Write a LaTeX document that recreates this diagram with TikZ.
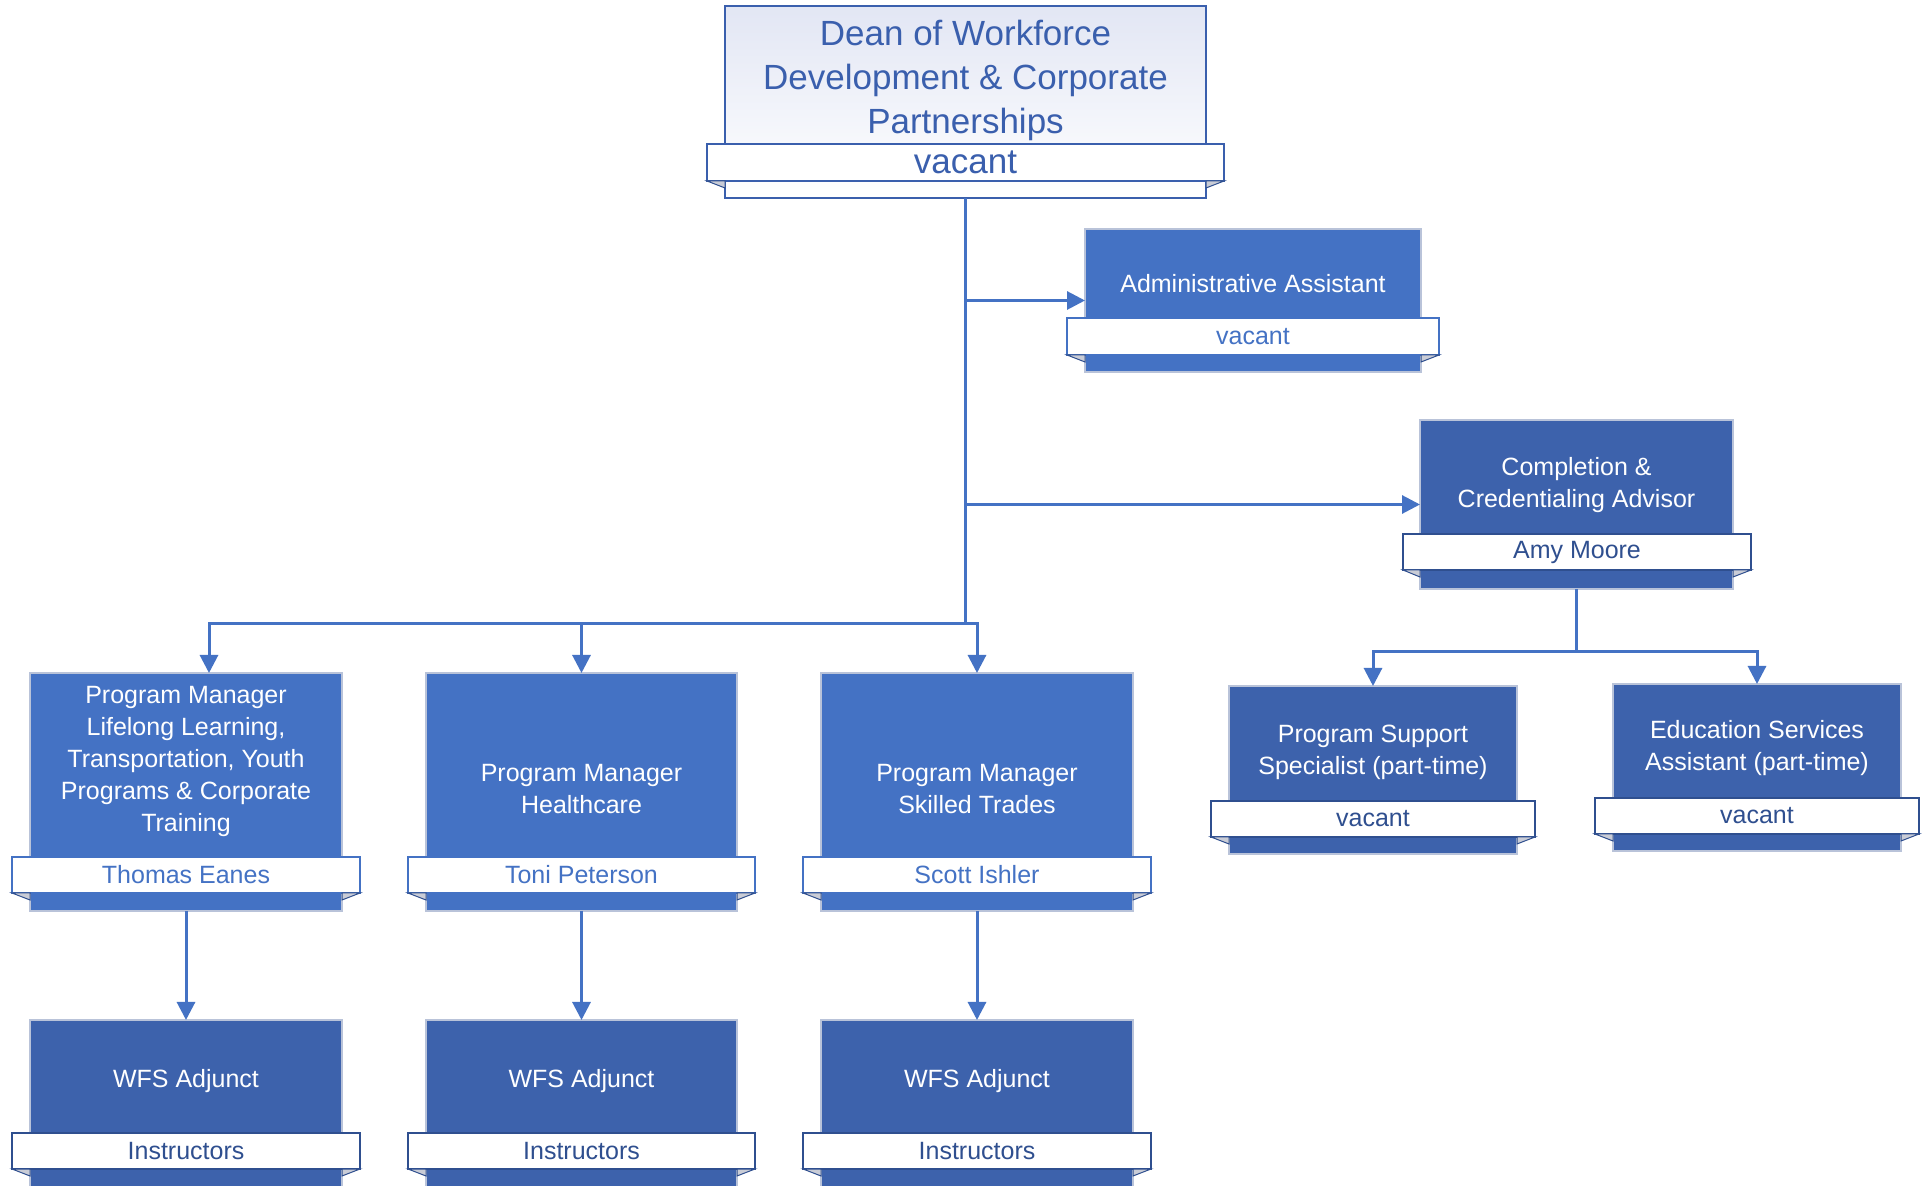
\documentclass[tikz,border=0pt]{standalone}
\usepackage{fontspec}
\setmainfont{Liberation Sans}
\usetikzlibrary{arrows.meta}

\definecolor{lineblue}{HTML}{4472C4}
\definecolor{darkfill}{HTML}{3D62AC}
\definecolor{navy}{HTML}{2F4F8F}
\definecolor{boxedge}{HTML}{B9C3D9}
\definecolor{foldgray}{HTML}{C9CCD6}
\definecolor{deanblue}{HTML}{3A5FAD}
\definecolor{deantint}{HTML}{E2E6F4}

\newcommand{\bodyfont}{\fontsize{12.5pt}{16pt}\selectfont}
\newcommand{\bigfont}{\fontsize{17.5pt}{22pt}\selectfont}

\begin{document}
\begin{tikzpicture}[x=0.5pt,y=-0.5pt,
  box/.style={rectangle, anchor=north west, inner sep=0pt, outer sep=0pt, draw=boxedge, line width=0.6pt},
  lightbox/.style={box, fill=lineblue},
  darkbox/.style={box, fill=darkfill},
  title/.style={align=center, text=white, font=\bodyfont},
  banner/.style={rectangle, anchor=north west, inner sep=0pt, outer sep=0pt, fill=white, draw=lineblue, line width=0.8pt, text=lineblue, font=\bodyfont},
  darkbanner/.style={banner, draw=navy, line width=1.1pt, text=navy},
  fold/.style={fill=foldgray, draw=navy, line width=0.5pt},
  conn/.style={draw=lineblue, line width=1.5pt},
  arr/.style={conn, -{Triangle[length=9pt,width=9pt]}}]

\path[use as bounding box, fill=white] (0,0) rectangle (1929,1186);
\clip (0,0) rectangle (1929,1186);

% Dean
\node[box, draw=deanblue, line width=1pt, top color=deantint, bottom color=white,
  minimum width=240.5pt, minimum height=96pt] (dean) at (725,6) {};
\node[align=center, text=deanblue, font=\bigfont] (deantitle) at (965.5,80)
  {Dean of Workforce\\Development \& Corporate\\Partnerships};
\node[banner, draw=deanblue, line width=1pt, text=deanblue, font=\bigfont,
  minimum width=258.5pt, minimum height=18.5pt] (deanban) at (707,144) {vacant};

% Administrative assistant
\node[lightbox, minimum width=168pt, minimum height=71.5pt] (admin) at (1085,229) {};
\node[title] (admintitle) at (1253,284) {Administrative Assistant};
\node[banner, minimum width=186pt, minimum height=18.5pt] (adminban) at (1067,318) {vacant};

% Completion advisor
\node[darkbox, minimum width=156.5pt, minimum height=84.5pt] (cred) at (1420,420) {};
\node[title] (credtitle) at (1576.5,485) {Completion \&\\Credentialing Advisor};
\node[darkbanner, minimum width=174pt, minimum height=18pt] (credban) at (1403,534) {Amy Moore};

% Program managers
\node[lightbox, minimum width=156pt, minimum height=119pt] (pm1) at (30,673) {};
\node[title] (pm1title) at (186,761)
  {Program Manager\\Lifelong Learning,\\Transportation, Youth\\Programs \& Corporate\\Training};
\node[banner, minimum width=174pt, minimum height=18pt] (pm1ban) at (12,857) {Thomas Eanes};

\node[lightbox, minimum width=155.5pt, minimum height=119pt] (pm2) at (426,673) {};
\node[title] (pm2title) at (581.5,789) {Program Manager\\Healthcare};
\node[banner, minimum width=173.5pt, minimum height=18pt] (pm2ban) at (408,857) {Toni Peterson};

\node[lightbox, minimum width=156pt, minimum height=119pt] (pm3) at (821,673) {};
\node[title] (pm3title) at (977,789) {Program Manager\\Skilled Trades};
\node[banner, minimum width=174pt, minimum height=18pt] (pm3ban) at (803,857) {Scott Ishler};

% Part-time staff
\node[darkbox, minimum width=144pt, minimum height=84pt] (ps) at (1229,686) {};
\node[title] (pstitle) at (1373,752) {Program Support\\Specialist (part-time)};
\node[darkbanner, minimum width=162pt, minimum height=18pt] (psban) at (1211,801) {vacant};

\node[darkbox, minimum width=144pt, minimum height=83.5pt] (es) at (1613,684) {};
\node[title] (estitle) at (1757,748) {Education Services\\Assistant (part-time)};
\node[darkbanner, minimum width=162pt, minimum height=18pt] (esban) at (1595,798) {vacant};

% Adjuncts
\node[darkbox, minimum width=156pt, minimum height=90pt] (wfs1) at (30,1020) {};
\node[title] (wfs1title) at (186,1081) {WFS Adjunct};
\node[darkbanner, minimum width=174pt, minimum height=18pt] (wfs1ban) at (12,1133) {Instructors};

\node[darkbox, minimum width=155.5pt, minimum height=90pt] (wfs2) at (426,1020) {};
\node[title] (wfs2title) at (581.5,1081) {WFS Adjunct};
\node[darkbanner, minimum width=173.5pt, minimum height=18pt] (wfs2ban) at (408,1133) {Instructors};

\node[darkbox, minimum width=156pt, minimum height=90pt] (wfs3) at (821,1020) {};
\node[title] (wfs3title) at (977,1081) {WFS Adjunct};
\node[darkbanner, minimum width=174pt, minimum height=18pt] (wfs3ban) at (803,1133) {Instructors};

% Banner folds
\foreach \b/\r in {deanban/dean, adminban/admin, credban/cred, pm1ban/pm1, pm2ban/pm2,
  pm3ban/pm3, psban/ps, esban/es, wfs1ban/wfs1, wfs2ban/wfs2, wfs3ban/wfs3} {
  \draw[fold] (\b.south west) -- (\b.south west -| \r.west) -- ([yshift=-3.5pt]\b.south west -| \r.west) -- cycle;
  \draw[fold] (\b.south east) -- (\b.south east -| \r.east) -- ([yshift=-3.5pt]\b.south east -| \r.east) -- cycle;
}

% Connectors
\coordinate (hub) at (dean.south |- 0,624);
\coordinate (hub2) at ([yshift=-31.5pt]cred.south);
\draw[conn] (dean.south) -- (hub);
\draw[arr] (dean.south |- admin.west) -- (admin.west);
\draw[arr] (dean.south |- cred.west) -- (cred.west);
\draw[arr] (hub) -| ([xshift=11.5pt]pm1.north);
\draw[arr] (hub) -| (pm2.north);
\draw[arr] (hub) -| (pm3.north);
\draw[conn] (cred.south) -- (hub2);
\draw[arr] (hub2) -| (ps.north);
\draw[arr] (hub2) -| (es.north);
\draw[arr] (pm1.south) -- (wfs1.north);
\draw[arr] (pm2.south) -- (wfs2.north);
\draw[arr] (pm3.south) -- (wfs3.north);
\end{tikzpicture}
\end{document}
